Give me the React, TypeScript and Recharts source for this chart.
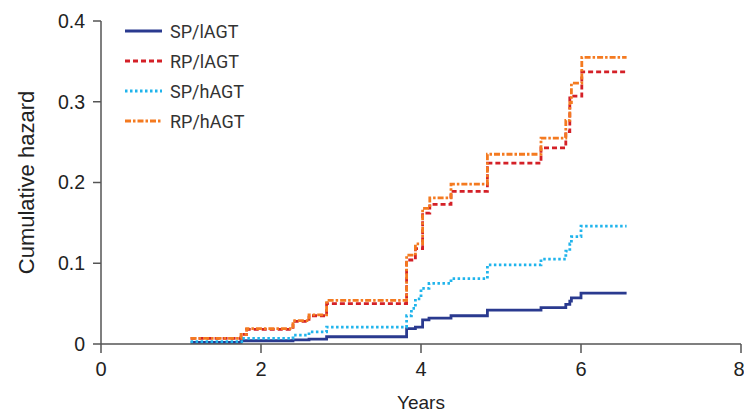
import React from 'react';
import { LineChart, Line, XAxis, YAxis, Label } from 'recharts';

// follow-up times (years) and cumulative hazard
const spLowTime = [1.12, 1.75, 2.4, 2.6, 2.82, 3.82, 3.93, 4.02, 4.1, 4.375, 4.83, 5.5, 5.81, 5.86, 5.88, 6.0, 6.57];
const spLowHazard = [0.002, 0.004, 0.005, 0.006, 0.009, 0.019, 0.021, 0.03, 0.032, 0.035, 0.042, 0.045, 0.049, 0.053, 0.057, 0.063, 0.063];

const rpLowTime = [1.12, 1.75, 1.82, 2.4, 2.6, 2.82, 3.82, 3.93, 4.02, 4.11, 4.375, 4.83, 5.5, 5.81, 5.86, 6.01, 6.57];
const rpLowHazard = [0.007, 0.012, 0.018, 0.028, 0.035, 0.05, 0.104, 0.118, 0.162, 0.173, 0.189, 0.224, 0.243, 0.263, 0.307, 0.337, 0.337];

const spHighTime = [1.12, 1.78, 2.4, 2.6, 2.82, 3.82, 3.88, 3.93, 4.0, 4.1, 4.375, 4.83, 5.5, 5.81, 5.86, 5.88, 6.0, 6.57];
const spHighHazard = [0.003, 0.007, 0.011, 0.015, 0.021, 0.035, 0.044, 0.056, 0.069, 0.075, 0.081, 0.098, 0.105, 0.115, 0.124, 0.133, 0.146, 0.146];

const rpHighTime = [1.12, 1.75, 1.82, 2.4, 2.6, 2.82, 3.82, 3.93, 4.02, 4.11, 4.375, 4.83, 5.5, 5.81, 5.86, 5.88, 6.01, 6.57];
const rpHighHazard = [0.007, 0.012, 0.019, 0.029, 0.036, 0.054, 0.11, 0.124, 0.168, 0.181, 0.198, 0.235, 0.255, 0.277, 0.299, 0.323, 0.355, 0.355];

const xTicks = [0, 2, 4, 6, 8];
const yTicks = [0, 0.1, 0.2, 0.3, 0.4];

const toPoints = (time: number[], hazard: number[]) =>
  time.map((t, i) => ({ t, h: hazard[i] }));

const series = [
  { name: 'SP/lAGT', data: toPoints(spLowTime, spLowHazard), color: '#2a3a8f', dash: undefined },
  { name: 'RP/lAGT', data: toPoints(rpLowTime, rpLowHazard), color: '#d42027', dash: '5 3' },
  { name: 'SP/hAGT', data: toPoints(spHighTime, spHighHazard), color: '#20b4ec', dash: '2.5 2.5' },
  { name: 'RP/hAGT', data: toPoints(rpHighTime, rpHighHazard), color: '#f47a20', dash: '6 2 2.5 2' },
];

const axisColor = '#555';
const textColor = '#222';
const font = 'Liberation Sans, Arial, sans-serif';

// drawn outside recharts so it doesn't push the plot area around
const LegendBox = () => (
  <div style={{ position: 'absolute', left: 125, top: 16, fontFamily: 'Roboto, sans-serif', fontSize: 18, color: '#333' }}>
    {series.map((s) => (
      <div key={s.name} style={{ display: 'flex', alignItems: 'center', height: 30 }}>
        <svg width={45} height={10}>
          <line x1={0} y1={5} x2={37} y2={5} stroke={s.color} strokeWidth={3} strokeDasharray={s.dash} />
        </svg>
        <span>{s.name}</span>
      </div>
    ))}
  </div>
);

export default function App() {
  return (
    <div style={{ position: 'absolute', left: 0, top: 0, width: 744, height: 414, background: '#fff' }}>
      <LineChart width={744} height={414} margin={{ top: 21, right: 3, bottom: 0, left: 0 }}>
        <XAxis
          type="number"
          dataKey="t"
          domain={[0, 8]}
          ticks={xTicks}
          allowDuplicatedCategory={false}
          height={70}
          stroke={axisColor}
          strokeWidth={1.5}
          tickSize={9}
          tickMargin={9}
          tick={{ fill: textColor, fontSize: 20, fontFamily: font }}
          tickLine={{ stroke: axisColor, strokeWidth: 1.5 }}
        >
          <Label value="Years" position="insideBottom" offset={5} fill={textColor} fontSize={19} fontFamily={font} />
        </XAxis>
        <YAxis
          type="number"
          domain={[0, 0.4]}
          ticks={yTicks}
          width={101}
          stroke={axisColor}
          strokeWidth={1.5}
          tickSize={8}
          tickMargin={8}
          tickFormatter={(v: number) => (v === 0 ? '0' : String(v))}
          tick={{ fill: textColor, fontSize: 19.5, fontFamily: font }}
          tickLine={{ stroke: axisColor, strokeWidth: 1.5 }}
        >
          <Label value="Cumulative hazard" angle={-90} position="insideLeft" offset={26} style={{ textAnchor: 'middle' }} fill={textColor} fontSize={22} fontFamily={font} />
        </YAxis>
        {series.map((s) => (
          <Line
            key={s.name}
            name={s.name}
            data={s.data}
            dataKey="h"
            type="stepAfter"
            stroke={s.color}
            strokeWidth={2.8}
            strokeDasharray={s.dash}
            dot={false}
            activeDot={false}
            isAnimationActive={false}
          />
        ))}
      </LineChart>
      <LegendBox />
    </div>
  );
}
